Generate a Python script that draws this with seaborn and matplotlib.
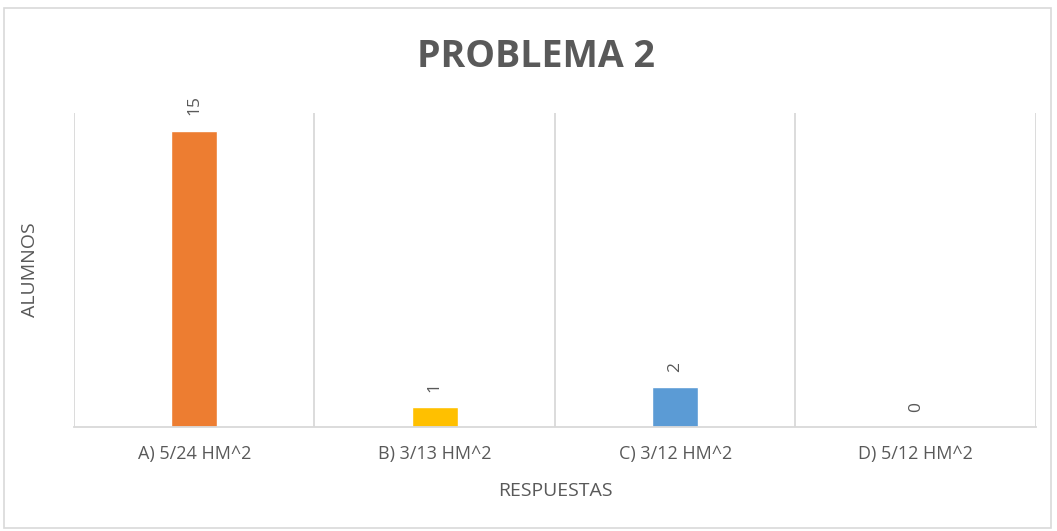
import matplotlib
matplotlib.use("Agg")
import matplotlib.pyplot as plt
import seaborn as sns
import pandas as pd
from matplotlib.patches import Rectangle

# Responses to problem 2 and number of students choosing each
respuestas = ["A) 5/24 HM^2", "B) 3/13 HM^2", "C) 3/12 HM^2", "D) 5/12 HM^2"]
alumnos = [15, 1, 2, 0]
colores = ["#ED7D31", "#FFC000", "#5B9BD5", "#70AD47"]

df = pd.DataFrame({"respuesta": respuestas, "alumnos": alumnos})

sns.set_theme(style="white")
plt.rcParams["font.family"] = ["Open Sans", "DejaVu Sans"]

texto = "#595959"
rejilla = "#D9D9D9"

fig = plt.figure(figsize=(10.57, 5.31), dpi=100)
ax = fig.add_axes([0.0700, 0.1959, 0.9101, 0.5913])

sns.barplot(data=df, x="respuesta", y="alumnos", hue="respuesta",
            palette=colores, width=0.19, legend=False, ax=ax, saturation=1)

ax.set_xlim(-0.5, len(respuestas) - 0.5)
ax.set_ylim(0, 15.9)
ax.set_yticks([])

# vertical separators between categories
ax.set_xticks([i - 0.5 for i in range(len(respuestas) + 1)], minor=True)
ax.grid(False)
ax.grid(True, which="minor", axis="x", color=rejilla, linewidth=1.3)
ax.tick_params(axis="x", which="both", length=0)
ax.tick_params(axis="x", which="major", pad=13, labelsize=13, labelcolor=texto)

for s in ["top", "right", "left"]:
    ax.spines[s].set_visible(False)
ax.spines["bottom"].set_color(rejilla)
ax.spines["bottom"].set_linewidth(1.3)

# value labels above each bar
for i, v in enumerate(alumnos):
    ax.annotate(str(v), (i, v), xytext=(0, 11), textcoords="offset points",
                rotation=90, ha="center", va="bottom", fontsize=12.5, color=texto)

ax.set_xlabel("RESPUESTAS", fontsize=14, color=texto, labelpad=14)
ax.set_ylabel("ALUMNOS", fontsize=14, color=texto)
ax.yaxis.set_label_coords(-0.036, 0.5)

fig.text(0.507, 0.892, "PROBLEMA 2", ha="center", va="center",
         fontsize=27, fontweight="bold", color=texto)

# chart frame
fig.patches.append(Rectangle((4 / 1057, 3 / 531), 1047 / 1057, 520 / 531,
                             transform=fig.transFigure, fill=False,
                             edgecolor=rejilla, linewidth=1.2))

fig.savefig("out.png", dpi=100)
